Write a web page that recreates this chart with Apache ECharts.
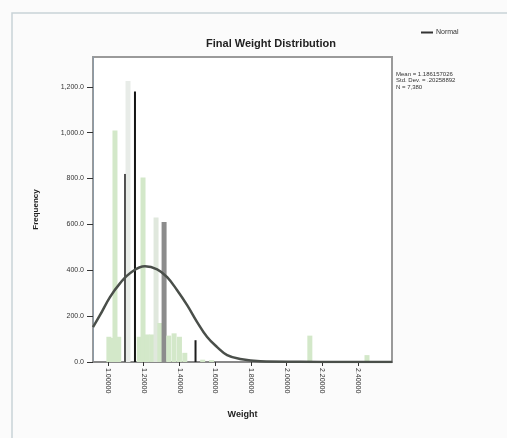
<!DOCTYPE html>
<html>
<head>
<meta charset="utf-8">
<title>Final Weight Distribution</title>
<script src="https://cdn.jsdelivr.net/npm/echarts@6/dist/echarts.min.js"></script>
<style>
  html, body { margin: 0; padding: 0; background: #fbfbfb; }
  #chart { width: 507px; height: 438px; }
</style>
</head>
<body>
<div id="chart"></div>
<script>
// Histogram of final weights (weight value, count)
const weights = [1.005, 1.020, 1.039, 1.060, 1.095, 1.112, 1.151, 1.175, 1.196, 1.220, 1.245, 1.269, 1.290, 1.314, 1.340, 1.370, 1.400, 1.430, 1.490, 1.530, 1.580, 2.130, 2.450];
const counts  = [110,   105,   1010,  110,   820,   1225,  1180,  110,   805,   120,   120,   630,   170,   610,   115,   125,   110,   40,    95,    10,    8,     115,   30];

// Fitted normal curve, read along its path
const curveX = [0.916, 0.955, 1.011, 1.067, 1.123, 1.207, 1.275, 1.331, 1.387, 1.443, 1.499, 1.555, 1.611, 1.667, 1.740, 1.852, 2.076, 2.300, 2.591];
const curveY = [152,   204,   283,   343,   387,   417,   404,   370,   313,   248,   174,   109,   65,    30,    13,    3,     1,     0,     0];

// Axis ticks
const xTicks = [1.0, 1.2, 1.4, 1.6, 1.8, 2.0, 2.2, 2.4];
const yTicks = [0, 200, 400, 600, 800, 1000, 1200];

const stats = ['Mean = 1.186157026', 'Std. Dev. = .20258892', 'N = 7,380'];

// bins drawn as thin dark outlines instead of a light fill
const lineBars = { 4: '#505050', 6: '#151515', 18: '#1e1e1e' };
const paleBars = { 5: '#e8ece8', 11: '#e0e8dd', 13: '#8c8c8c' };

const chart = echarts.init(document.getElementById('chart'), null, { renderer: 'canvas' });

const fillData = weights.map((w, i) => (i in lineBars ? [w, '-'] : [w, counts[i]]));
const lineData = weights.map((w, i) => (i in lineBars ? [w, counts[i]] : [w, '-']));
const curveData = curveX.map((x, i) => [x, curveY[i]]);

function yLabel(v) {
  if (v >= 1000) return Math.floor(v / 1000) + ',' + String(v % 1000).padStart(3, '0') + '.0';
  return v.toFixed(1);
}

const font = 'Liberation Sans, Arial';

chart.setOption({
  animation: false,
  backgroundColor: '#fbfbfb',
  title: {
    text: 'Final Weight Distribution',
    left: 266, top: 33,
    textAlign: 'center',
    textStyle: { fontFamily: font, fontSize: 11, fontWeight: 'bold', color: '#222' }
  },
  legend: {
    data: [{ name: 'Normal', icon: 'rect' }],
    left: 416, top: 24,
    itemWidth: 12, itemHeight: 2, itemGap: 4,
    textStyle: { fontFamily: font, fontSize: 7, color: '#333', padding: [0, 0, 0, -2] }
  },
  grid: { left: 93, right: 115, top: 57, bottom: 76, show: true, borderColor: '#9a9a9a', borderWidth: 2, backgroundColor: '#ffffff' },
  xAxis: [
    {
      type: 'value',
      min: 0.916, max: 2.59,
      name: 'Weight',
      nameLocation: 'middle',
      nameGap: 48,
      nameTextStyle: { fontFamily: font, fontSize: 9, fontWeight: 'bold', color: '#222' },
      axisLine: { show: true, lineStyle: { color: '#888', width: 2 } },
      axisTick: { show: true, customValues: xTicks, length: 4, lineStyle: { color: '#333' } },
      axisLabel: {
        customValues: xTicks,
        rotate: -90,
        margin: 6,
        fontFamily: font, fontSize: 7, color: '#333',
        formatter: v => v.toFixed(5)
      },
      splitLine: { show: false }
    },
    {
      // twin axis so the thin outline bars keep their own centring
      type: 'value',
      min: 0.916, max: 2.59,
      show: false
    }
  ],
  yAxis: {
    type: 'value',
    min: 0, max: 1330,
    name: 'Frequency',
    nameLocation: 'middle',
    nameGap: 53,
    nameTextStyle: { fontFamily: font, fontSize: 8, fontWeight: 'bold', color: '#222' },
    axisLine: { show: true, lineStyle: { color: '#8a9aa8', width: 1, type: 'dotted' } },
    axisTick: { show: true, customValues: yTicks, length: 6, lineStyle: { color: '#333' } },
    axisLabel: {
      customValues: yTicks,
      margin: 9,
      fontFamily: font, fontSize: 7, color: '#333',
      formatter: yLabel
    },
    splitLine: { show: false }
  },
  series: [
    {
      name: 'Weight',
      type: 'bar',
      xAxisIndex: 0,
      data: fillData,
      barWidth: 5,
      itemStyle: {
        color: p => paleBars[p.dataIndex] || '#d3e8c9'
      },
      z: 2
    },
    {
      name: 'Weight outline',
      type: 'bar',
      xAxisIndex: 1,
      data: lineData,
      barWidth: 2,
      itemStyle: {
        color: p => lineBars[p.dataIndex] || '#333'
      },
      z: 3
    },
    {
      name: 'Normal',
      type: 'line',
      xAxisIndex: 0,
      data: curveData,
      smooth: 0.4,
      symbol: 'none',
      lineStyle: { color: '#4a4f4a', width: 2.5 },
      itemStyle: { color: '#333' },
      z: 4
    }
  ],
  graphic: [
    {
      type: 'rect',
      shape: { x: 12, y: 13, width: 500, height: 430 },
      style: { fill: 'none', stroke: '#c9d3d8', lineWidth: 1.5 },
      silent: true, z: -1
    },
    {
      type: 'text',
      left: 396, top: 71,
      style: {
        text: stats.join('\n'),
        font: '6px "Liberation Sans", Arial',
        lineHeight: 6.5,
        fill: '#333'
      }
    }
  ]
});
</script>
</body>
</html>
